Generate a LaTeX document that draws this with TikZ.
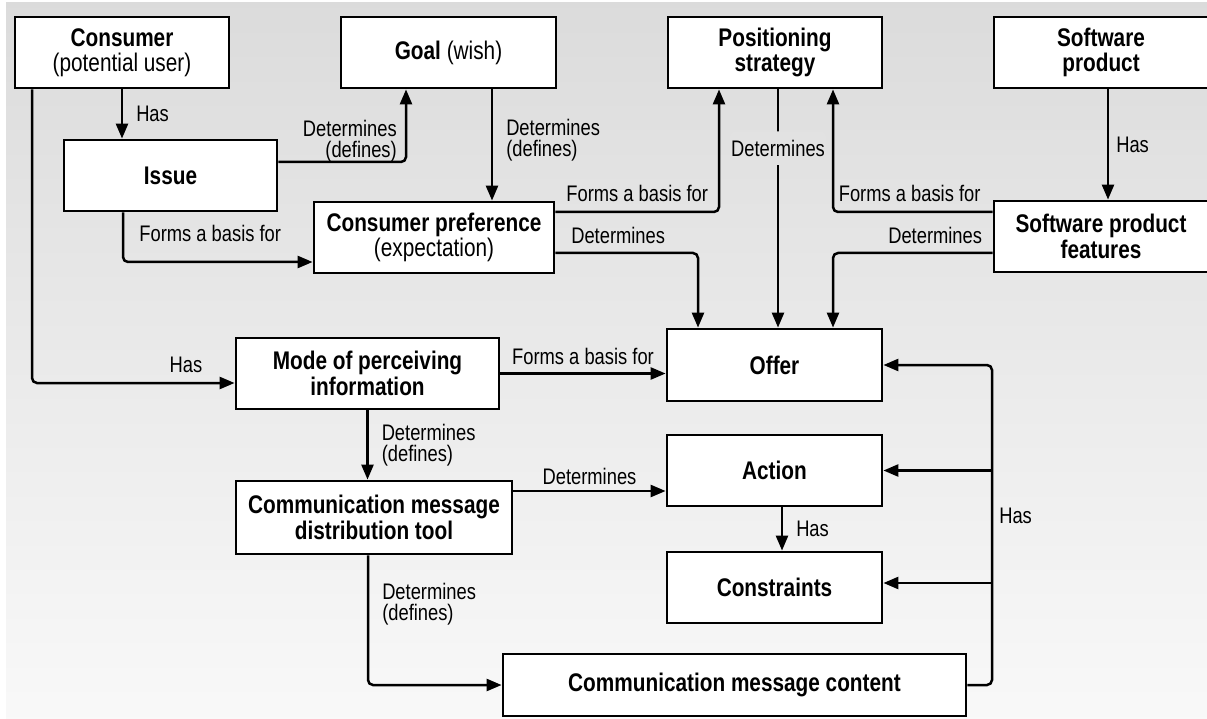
\documentclass[tikz,border=0pt]{standalone}
\usepackage{fontspec}
\setmainfont{Liberation Sans}[FakeStretch=0.815]
\usetikzlibrary{arrows.meta}

\definecolor{bgtop}{gray}{0.86}
\definecolor{bgbottom}{gray}{0.975}
\definecolor{bgmid}{gray}{0.885}

\begin{document}
\begin{tikzpicture}[x=1pt, y=-1pt,
  box/.style={draw, line width=2.8pt, fill=white, align=center, inner sep=2pt,
    minimum height=71pt, font=\fontsize{25.5}{25.5}\selectfont},
  link/.style={line width=2.5pt, rounded corners=5pt,
    -{Triangle[length=15pt, width=12pt]}},
  tag/.style={inner sep=1pt, align=left, font=\fontsize{22.5}{21}\selectfont}]

  \useasboundingbox (0,0) rectangle (1207,719);
  \shade[top color=bgtop, bottom color=bgbottom] (6,3) rectangle (1207,719);

  % top row
  \node (consumer) [box, minimum width=214pt] at (122,52.5)
    {\textbf{Consumer}\\(potential user)};
  \node (goal) [box, minimum width=215pt] at (448.5,52.5)
    {\textbf{Goal} (wish)};
  \node (strategy) [box, minimum width=214pt] at (775,52.5)
    {\textbf{Positioning}\\\textbf{strategy}};
  \node (product) [box, minimum width=214pt] at (1101,52.5)
    {\textbf{Software}\\\textbf{product}};

  % second row
  \node (issue) [box, minimum width=213pt] at (170.5,175.5) {\textbf{Issue}};
  \node (preference) [box, minimum width=240pt] at (434,237.5)
    {\textbf{Consumer preference}\\(expectation)};
  \node (features) [box, minimum width=214pt] at (1101,236.5)
    {\textbf{Software product}\\\textbf{features}};

  % lower part
  \node (mode) [box, minimum width=263pt] at (367.5,373.5)
    {\textbf{Mode of perceiving}\\\textbf{information}};
  \node (offer) [box, minimum width=215pt, minimum height=72pt] at (774.5,365)
    {\textbf{Offer}};
  \node (action) [box, minimum width=215pt] at (774.5,470.5) {\textbf{Action}};
  \node (tool) [box, minimum width=276pt, minimum height=73pt] at (374,517.5)
    {\textbf{Communication message}\\\textbf{distribution tool}};
  \node (constraints) [box, minimum width=215pt] at (774.5,587.5)
    {\textbf{Constraints}};
  \node (content) [box, minimum width=463pt, minimum height=62pt] at (734.5,685)
    {\textbf{Communication message content}};

  \coordinate (hasbus) at (992,0);

  % connectors
  \draw[link] (consumer.south) -- (consumer.south |- issue.north)
    node[tag, midway, right=12pt] {Has};
  \draw[link] ([yshift=13.5pt]issue.east) -| ([xshift=-42.5pt]goal.south)
    node[tag, pos=0.64, left=7pt, align=right] {Determines\\(defines)};
  \draw[link] ([xshift=-47.5pt]issue.south) |- ([yshift=-24.5pt]preference.west)
    node[tag, pos=0.73, above=18pt] {Forms a basis for};
  \draw[link] ([xshift=43.5pt]goal.south) -- ([xshift=43.5pt]goal.south |- preference.north)
    node[tag, pos=0.46, right=12pt] {Determines\\(defines)};
  \draw[link] ([yshift=25.5pt]preference.east) -| ([xshift=-56pt]strategy.south)
    node[tag, pos=0.25, above=8pt] {Forms a basis for};
  \draw[link] ([yshift=-15.5pt]preference.east) -| ([xshift=-76.5pt]offer.north)
    node[tag, pos=0.22, above=7pt] {Determines};
  \draw[link] ([xshift=3pt]strategy.south) -- ([xshift=3pt]strategy.south |- offer.north)
    node[tag, pos=0.247, fill=bgmid, inner ysep=8.5pt] {Determines};
  \draw[link] ([xshift=7pt]product.south) -- ([xshift=7pt]product.south |- features.north)
    node[tag, midway, right=6pt] {Has};
  \draw[link] ([yshift=24.5pt]features.west) -| ([xshift=58pt]strategy.south)
    node[tag, pos=0.26, above=8pt] {Forms a basis for};
  \draw[link] ([yshift=-16.5pt]features.west) -| ([xshift=58.5pt]offer.north)
    node[tag, pos=0.18, above=7pt] {Determines};
  \draw[link] ([xshift=-90pt]consumer.south) |- ([yshift=-9.5pt]mode.west)
    node[tag, pos=0.88, above=8pt] {Has};
  \draw[link] (mode.east) -- (mode.east -| offer.west)
    node[tag, midway, above=7pt] {Forms a basis for};
  \draw[link] (mode.south) -- (mode.south |- tool.north)
    node[tag, midway, right=12pt] {Determines\\(defines)};
  \draw[link] ([yshift=26.5pt]tool.east) -- ([yshift=26.5pt]tool.east -| action.west)
    node[tag, midway, above=4pt] {Determines};
  \draw[link] ([xshift=7.5pt]action.south) -- ([xshift=7.5pt]action.south |- constraints.north)
    node[tag, midway, right=12pt] {Has};
  \draw[link] ([xshift=-6pt]tool.south) |- (content.west)
    node[tag, pos=0.19, right=12pt] {Determines\\(defines)};
  \draw[link] (content.east) -| node[tag, pos=0.765, right=5pt] {Has}
    (hasbus |- offer.east) -- (offer.east);
  \draw[link] (hasbus |- action.east) -- (action.east);
  \draw[link] ([yshift=4.5pt]hasbus |- constraints.east) -- ([yshift=4.5pt]constraints.east);
\end{tikzpicture}
\end{document}
